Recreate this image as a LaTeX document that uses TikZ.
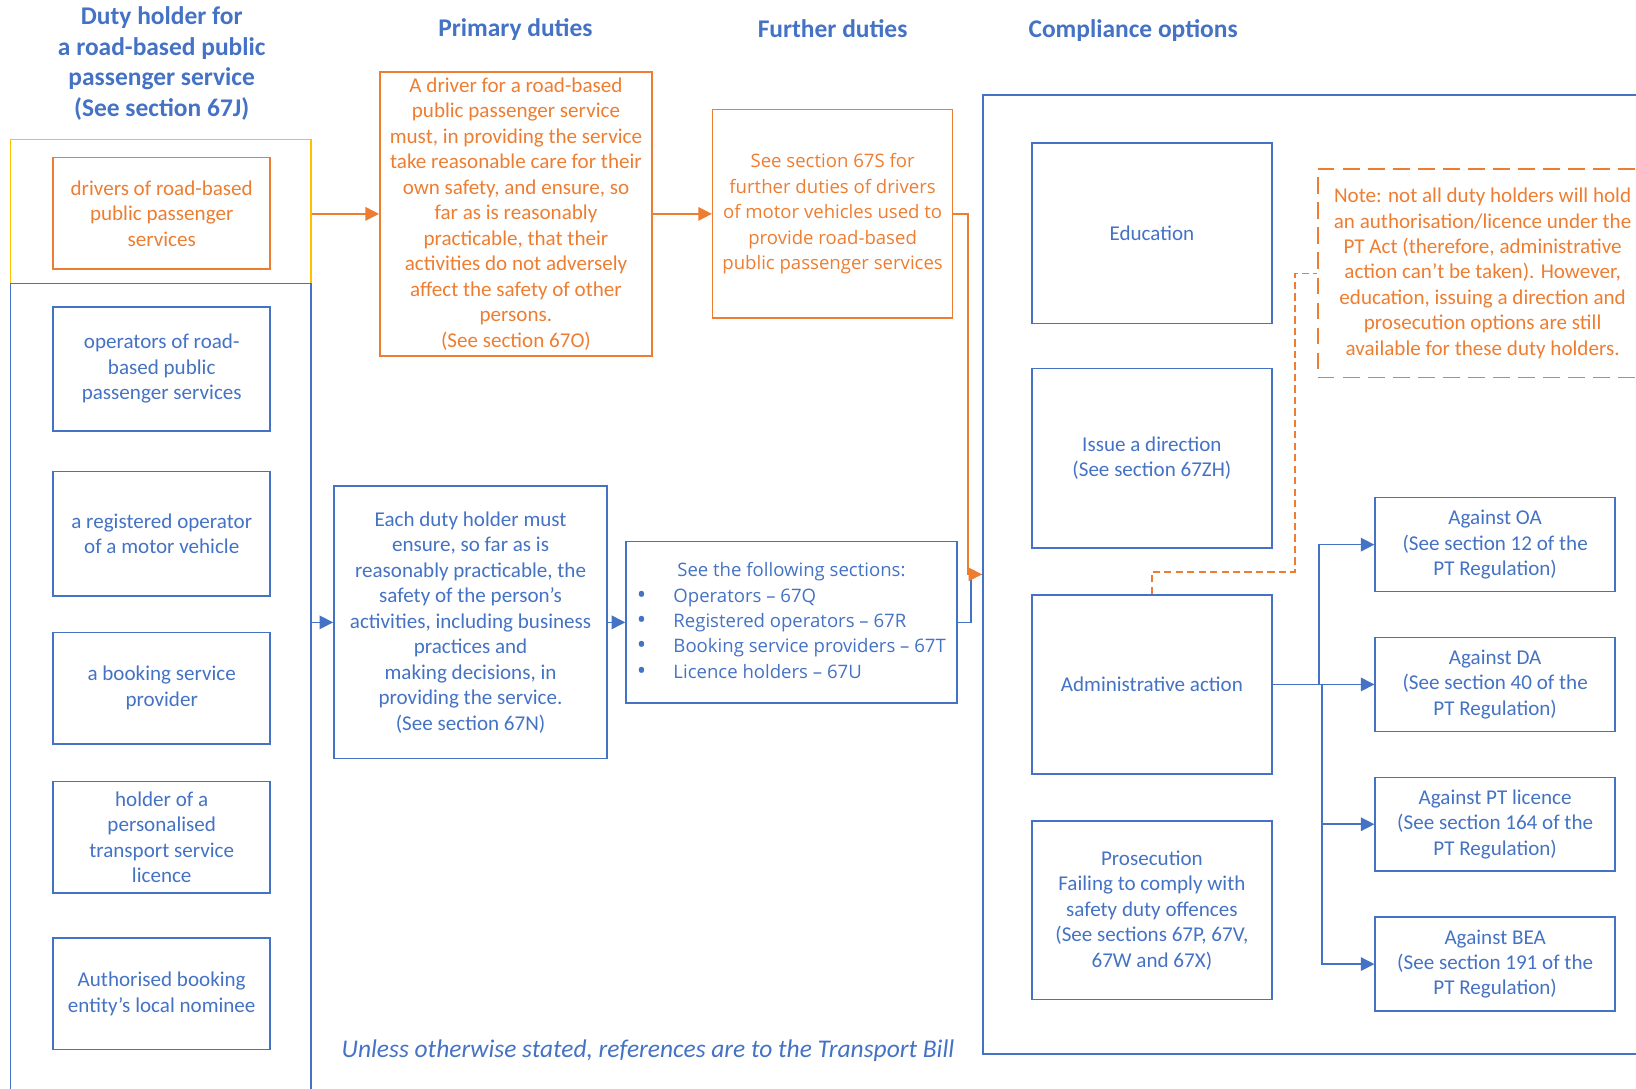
\documentclass[tikz,border=0pt]{standalone}
\usepackage{fontspec}
\setmainfont{Carlito}
\newfontfamily\segoe[Ligatures=TeX]{Open Sans}
\usetikzlibrary{arrows.meta}
\definecolor{dutyblue}{HTML}{4472C4}
\definecolor{dutyorange}{HTML}{ED7D31}
\definecolor{dutyyellow}{HTML}{FFC000}
\newcommand{\dutybullet}{\makebox[17.5pt][l]{\raisebox{-0.5pt}{\fontsize{12}{12}\selectfont\textbullet}}}

\begin{document}
\begin{tikzpicture}[x=0.5pt, y=-0.5pt,
  body/.style={font=\fontsize{10.1}{12.2}\selectfont, align=center, inner sep=0pt},
  wide/.style={font=\segoe\fontsize{8.9}{12.2}\selectfont},
  bbox/.style={body, draw=dutyblue, text=dutyblue, line width=0.75pt},
  obox/.style={body, draw=dutyorange, text=dutyorange, line width=0.75pt},
  grp/.style={draw, line width=0.55pt, inner sep=0pt},
  heading/.style={font=\fontsize{12.2}{14.7}\selectfont\bfseries, text=dutyblue, align=center},
  barrow/.style={draw=dutyblue, line width=0.75pt, -{Triangle[length=6.5pt,width=6.5pt]}},
  oarrow/.style={draw=dutyorange, line width=0.75pt, -{Triangle[length=6.5pt,width=6.5pt]}},
]
\useasboundingbox (0,0) rectangle (1568,1043);
\clip (0,0) rectangle (1568,1043);

% Headings
\node[heading] (hholder) at (155,61) {Duty holder for\\a road-based public\\passenger service\\(See section 67J)};
\node[heading] (hprimary) at (494,28) {Primary duties};
\node[heading] (hfurther) at (798,27) {Further duties};
\node[heading] (hoptions) at (1086,29) {Compliance options};

% Duty holders
\node[grp, draw=dutyyellow, minimum width=144pt, minimum height=69pt] (drvgrp) at (154,203) {};
\node[grp, draw=dutyblue, minimum width=144pt, minimum height=394pt] (opsgrp) at (154,666) {};
\node[obox, minimum width=104pt, minimum height=53.5pt] (drivers) at (155,204.5) {drivers of road-based\\public passenger\\services};
\node[bbox, minimum width=104pt, minimum height=59.5pt] (operators) at (155,353.5) {operators of road-\\based public\\passenger services};
\node[bbox, minimum width=104pt, minimum height=59.5pt] (regop) at (155,511.5) {a registered operator\\of a motor vehicle};
\node[bbox, minimum width=104pt, minimum height=53.5pt] (booking) at (155,659.5) {a booking service\\provider};
\node[bbox, minimum width=104pt, minimum height=53.5pt] (holder) at (155,802.5) {holder of a\\personalised\\transport service\\licence};
\node[bbox, minimum width=104pt, minimum height=53.5pt] (nominee) at (155,952.5) {Authorised booking\\entity's local nominee};

% Primary and further duties
\node[obox, minimum width=130.5pt, minimum height=136pt] (primary) at (494.5,205) {A driver for a road-based\\public passenger service\\must, in providing the service\\take reasonable care for their\\own safety, and ensure, so\\far as is reasonably\\practicable, that their\\activities do not adversely\\affect the safety of other\\persons.\\(See section 67O)};
\node[obox, wide, minimum width=115pt, minimum height=100pt] (further) at (798,205) {See section 67S for\\further duties of drivers\\of motor vehicles used to\\provide road-based\\public passenger services};
\node[bbox, minimum width=131pt, minimum height=130.5pt] (each) at (451,596.5) {Each duty holder must\\ensure, so far as is\\reasonably practicable, the\\safety of the person's\\activities, including business\\practices and\\making decisions, in\\providing the service.\\(See section 67N)};
\node[bbox, wide, minimum width=158.5pt, minimum height=77.5pt] (sections) at (758.5,596.5) {\begin{tabular}{@{}l@{}}
\multicolumn{1}{@{}c@{}}{See the following sections:}\\
\dutybullet Operators -- 67Q\\
\dutybullet Registered operators -- 67R\\
\dutybullet Booking service providers -- 67T\\
\dutybullet Licence holders -- 67U
\end{tabular}};

% Compliance options
\node[grp, draw=dutyblue, line width=0.75pt, minimum width=324pt, minimum height=459.5pt] (comp) at (1266,550.5) {};
\node[bbox, minimum width=115pt, minimum height=86.5pt] (education) at (1104,223.5) {Education};
\node[bbox, minimum width=115pt, minimum height=86pt] (direction) at (1104,439) {Issue a direction\\(See section 67ZH)};
\node[bbox, minimum width=115pt, minimum height=86pt] (admin) at (1104,656) {Administrative action};
\node[bbox, minimum width=115pt, minimum height=85.5pt] (prosecution) at (1104,872.5) {Prosecution\\Failing to comply with\\safety duty offences\\(See sections 67P, 67V,\\67W and 67X)};
\node[obox, dash pattern=on 8pt off 4pt, minimum width=158pt, minimum height=100pt] (note) at (1421,262) {Note: not all duty holders will hold\\an authorisation/licence under the\\PT Act (therefore, administrative\\action can't be taken). However,\\education, issuing a direction and\\prosecution options are still\\available for these duty holders.};
\node[bbox, minimum width=115pt, minimum height=45pt] (againstOA) at (1433,522) {Against OA\\(See section 12 of the\\PT Regulation)};
\node[bbox, minimum width=115pt, minimum height=45pt] (againstDA) at (1433,656) {Against DA\\(See section 40 of the\\PT Regulation)};
\node[bbox, minimum width=115pt, minimum height=45pt] (againstPT) at (1433,790) {Against PT licence\\(See section 164 of the\\PT Regulation)};
\node[bbox, minimum width=115pt, minimum height=45pt] (againstBEA) at (1433,924) {Against BEA\\(See section 191 of the\\PT Regulation)};

% Footer
\node[font=\fontsize{12.2}{14}\selectfont\itshape, text=dutyblue] (footer) at (621,1007) {Unless otherwise stated, references are to the Transport Bill};

% Connectors
\draw[oarrow] (drvgrp.east |- primary.west) -- (primary.west);
\draw[oarrow] (primary.east) -- (further.west);
\draw[barrow] (opsgrp.east |- each.west) -- (each.west);
\draw[barrow] (each.east) -- (sections.west);
\draw[dutyblue, line width=0.75pt] (sections.east) -- ++(13,0) |- (comp.west);
\draw[oarrow] (further.east) -- ++(14,0) |- (comp.west);

\coordinate (notebend) at (1241,548);
\draw[dutyorange, line width=0.75pt, dash pattern=on 3.5pt off 2pt] (admin.north) |- (notebend) |- (note.west);

\coordinate (fanA) at (1264,656);
\coordinate (fanB) at (1267,656);
\draw[barrow] (admin.east) -- (againstDA.west);
\draw[barrow] (fanA) |- (againstOA.west);
\draw[barrow] (fanB) |- (againstPT.west);
\draw[barrow] (fanB) |- (againstBEA.west);

\end{tikzpicture}
\end{document}
